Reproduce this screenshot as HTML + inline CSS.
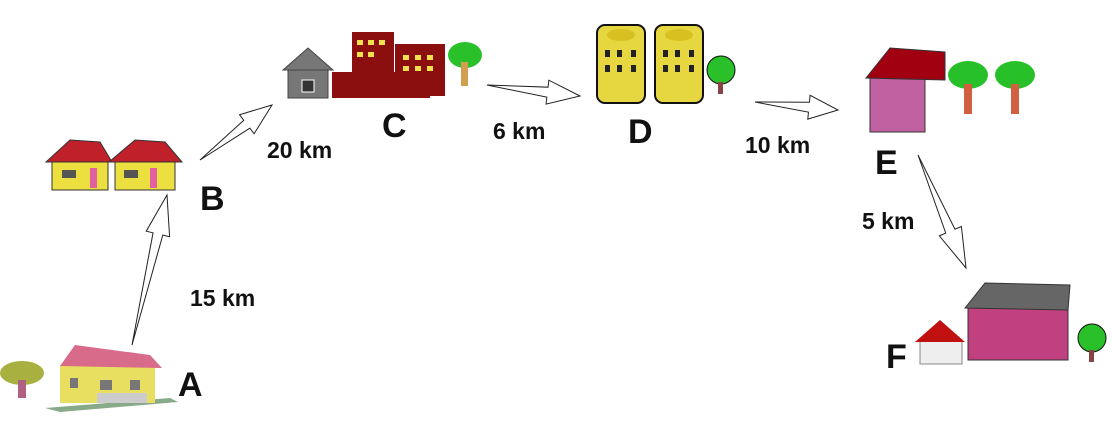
<!DOCTYPE html>
<html><head><meta charset="utf-8"><style>
body{margin:0;background:#fff;width:1114px;height:423px;overflow:hidden}
svg{display:block}
text{font-family:"Liberation Sans",sans-serif;font-weight:bold;fill:#111}
.km{font-size:23px}.lt{font-size:34px}
</style></head><body>
<svg id="s" width="1114" height="423" viewBox="0 0 1114 423">
<g>
<polygon points="45,408 170,398 178,402 60,412" fill="#8a8" />
<rect x="60" y="365" width="95" height="38" fill="#e8df60"/>
<polygon points="60,366 75,345 150,355 162,368" fill="#d86a8a"/>
<rect x="100" y="380" width="12" height="10" fill="#777"/><rect x="130" y="380" width="10" height="10" fill="#777"/>
<rect x="70" y="378" width="8" height="10" fill="#777"/>
<rect x="97" y="393" width="50" height="10" fill="#ccc"/>
<ellipse cx="22" cy="373" rx="22" ry="12" fill="#a8b040"/><rect x="18" y="380" width="8" height="18" fill="#b06080"/>
</g>
<g>
<rect x="52" y="160" width="56" height="30" fill="#ece040" stroke="#333"/>
<polygon points="46,162 70,140 100,142 112,162" fill="#c0202a" stroke="#333"/>
<rect x="115" y="160" width="60" height="30" fill="#ece040" stroke="#333"/>
<polygon points="109,162 135,140 165,142 182,162" fill="#c0202a" stroke="#333"/>
<rect x="62" y="170" width="14" height="8" fill="#555"/><rect x="124" y="170" width="14" height="8" fill="#555"/>
<rect x="90" y="168" width="7" height="20" fill="#e060a0"/><rect x="150" y="168" width="7" height="20" fill="#e060a0"/>
</g>
<g>
<rect x="288" y="67" width="40" height="31" fill="#777" stroke="#444"/>
<polygon points="283,70 308,48 333,70" fill="#777" stroke="#444"/>
<rect x="302" y="80" width="12" height="12" fill="#333" stroke="#fff"/>
<rect x="352" y="32" width="42" height="50" fill="#8b0f0f"/>
<rect x="395" y="44" width="50" height="52" fill="#8b0f0f"/>
<rect x="332" y="72" width="98" height="26" fill="#8b0f0f"/>
<g fill="#f0e050"><rect x="357" y="40" width="6" height="5"/><rect x="368" y="40" width="6" height="5"/><rect x="379" y="40" width="6" height="5"/><rect x="357" y="52" width="6" height="5"/><rect x="368" y="52" width="6" height="5"/><rect x="403" y="55" width="6" height="5"/><rect x="415" y="55" width="6" height="5"/><rect x="427" y="55" width="6" height="5"/><rect x="403" y="66" width="6" height="5"/><rect x="415" y="66" width="6" height="5"/><rect x="427" y="66" width="6" height="5"/></g>
<ellipse cx="465" cy="55" rx="17" ry="13" fill="#2ac02a"/><rect x="461" y="62" width="7" height="24" fill="#d0a050"/>
</g>
<g>
<rect x="597" y="25" width="48" height="78" rx="8" fill="#e6d640" stroke="#111" stroke-width="2"/>
<rect x="655" y="25" width="48" height="78" rx="8" fill="#e6d640" stroke="#111" stroke-width="2"/>
<ellipse cx="621" cy="35" rx="14" ry="6" fill="#d8c020"/><ellipse cx="679" cy="35" rx="14" ry="6" fill="#d8c020"/>
<g fill="#222"><rect x="605" y="50" width="5" height="7"/><rect x="617" y="50" width="5" height="7"/><rect x="631" y="50" width="5" height="7"/><rect x="605" y="65" width="5" height="7"/><rect x="617" y="65" width="5" height="7"/><rect x="631" y="65" width="5" height="7"/><rect x="663" y="50" width="5" height="7"/><rect x="675" y="50" width="5" height="7"/><rect x="689" y="50" width="5" height="7"/><rect x="663" y="65" width="5" height="7"/><rect x="675" y="65" width="5" height="7"/><rect x="689" y="65" width="5" height="7"/></g>
<circle cx="721" cy="70" r="14" fill="#2ac02a" stroke="#111"/><rect x="718" y="82" width="5" height="12" fill="#844"/>
</g>
<g>
<rect x="870" y="75" width="55" height="57" fill="#c060a0" stroke="#333"/>
<polygon points="866,78 890,48 945,52 945,80" fill="#a00010" stroke="#333"/>
<ellipse cx="968" cy="75" rx="20" ry="14" fill="#28c028"/><rect x="964" y="84" width="8" height="30" fill="#d06040"/>
<ellipse cx="1015" cy="75" rx="20" ry="14" fill="#28c028"/><rect x="1011" y="84" width="8" height="30" fill="#d06040"/>
</g>
<g>
<rect x="968" y="305" width="100" height="55" fill="#c04080" stroke="#333"/>
<polygon points="965,308 985,283 1070,285 1068,310" fill="#666" stroke="#333"/>
<rect x="920" y="340" width="42" height="24" fill="#eee" stroke="#888"/>
<polygon points="915,342 940,320 965,342" fill="#c01010"/>
<circle cx="1092" cy="338" r="14" fill="#2ac02a" stroke="#111"/><rect x="1089" y="350" width="5" height="12" fill="#844"/>
</g>
<g id="arrows"></g>
<text class="km" x="190" y="306">15 km</text>
<text class="km" x="267" y="158">20 km</text>
<text class="km" x="493" y="139">6 km</text>
<text class="km" x="745" y="153">10 km</text>
<text class="km" x="862" y="229">5 km</text>
<text class="lt" x="178" y="396">A</text>
<text class="lt" x="200" y="210">B</text>
<text class="lt" x="382" y="137">C</text>
<text class="lt" x="628" y="143">D</text>
<text class="lt" x="875" y="174">E</text>
<text class="lt" x="886" y="368">F</text>
</svg>
<script>
const arrows=[[132,345,167,195],[200,160,272,105],[487,85,580,96],[755,102,838,110],[918,155,966,268]];
const g=document.getElementById('arrows');
arrows.forEach(a=>{const[x1,y1,x2,y2]=a;const dx=x2-x1,dy=y2-y1,L=Math.hypot(dx,dy),ux=dx/L,uy=dy/L,nx=-uy,ny=ux;
const h=Math.min(40,L*0.35),hw=12,sw=5;const bx=x2-ux*h,by=y2-uy*h;
const pts=[[x1,y1],[bx+nx*sw,by+ny*sw],[bx+nx*hw,by+ny*hw],[x2,y2],[bx-nx*hw,by-ny*hw],[bx-nx*sw,by-ny*sw]];
const p=document.createElementNS('http://www.w3.org/2000/svg','polygon');
p.setAttribute('points',pts.map(q=>q.join(',')).join(' '));
p.setAttribute('fill','#fff');p.setAttribute('stroke','#222');p.setAttribute('stroke-width','1');


g.appendChild(p);});
</script>
</body></html>
